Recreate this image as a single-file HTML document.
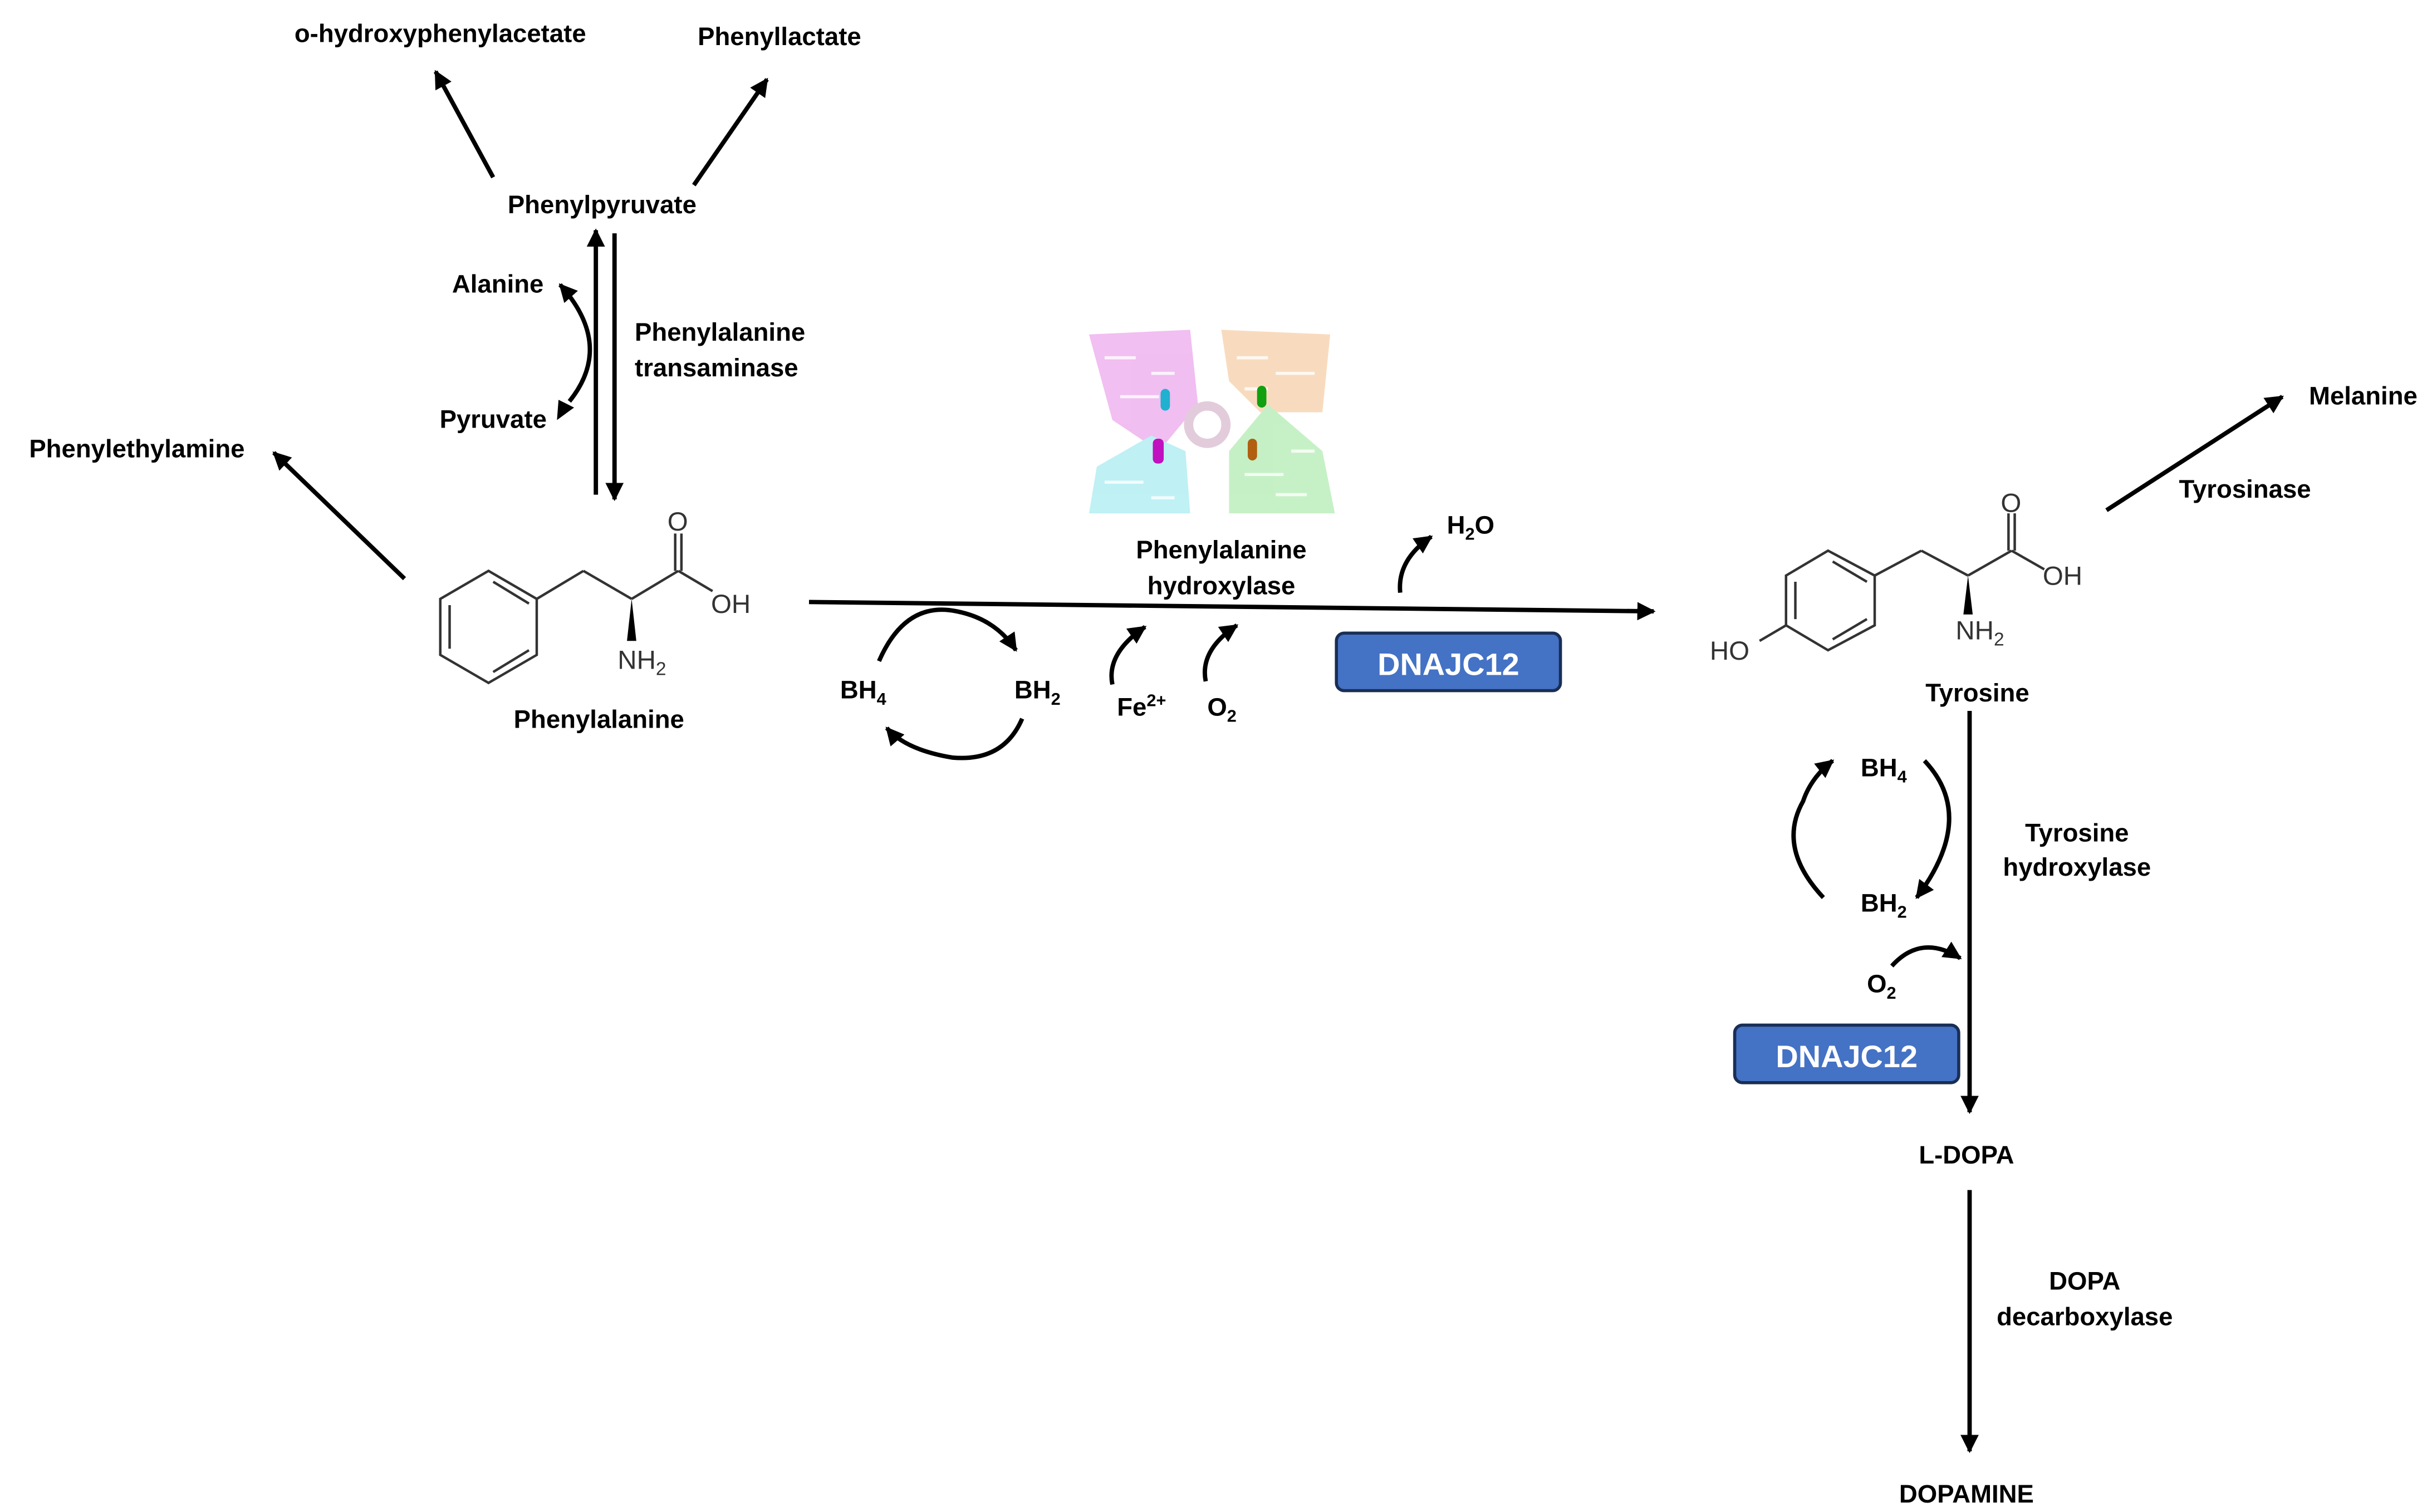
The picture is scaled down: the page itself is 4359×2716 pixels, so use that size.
<!DOCTYPE html>
<html><head><meta charset="utf-8"><style>
html,body{margin:0;padding:0;background:#fff;}
svg{display:block;}
text{font-family:"Liberation Sans",sans-serif;font-weight:bold;font-size:16.3px;fill:#000;}
.c{text-anchor:middle;}
.chem{font-weight:normal;font-size:17px;fill:#333;}
</style></head><body>
<svg width="4359" height="2716" viewBox="0 0 1560 972" xmlns="http://www.w3.org/2000/svg">
<defs>
<marker id="a" viewBox="0 0 10 10" refX="9" refY="5" markerWidth="4.2" markerHeight="4.2" orient="auto" markerUnits="strokeWidth">
<path d="M0,0 L10,5 L0,10 Z" fill="#000"/></marker>
</defs>
<g stroke="#000" stroke-width="2.8" fill="none" marker-end="url(#a)">
<line x1="317" y1="114" x2="280" y2="46"/>
<line x1="446" y1="119" x2="493" y2="51"/>
<line x1="383" y1="318" x2="383" y2="148"/>
<line x1="395" y1="150" x2="395" y2="321"/>
<line x1="260" y1="372" x2="176" y2="291"/>
<line x1="520" y1="387" x2="1063" y2="393"/>
<line x1="1354" y1="328" x2="1467" y2="255"/>
<line x1="1266" y1="457" x2="1266" y2="715"/>
<line x1="1266" y1="765" x2="1266" y2="933"/>
<path d="M366,258 Q395,222 360,183"/>
<path d="M565,425 Q582,386 615,393 Q640,398 653,418"/>
<path d="M657,462 Q645,490 612,487 Q582,482 570,468"/>
<path d="M715,440 Q711,420 736,403"/>
<path d="M775,438 Q771,418 795,402"/>
<path d="M900,381 Q898,360 920,345"/>
<path d="M1172,577 Q1142,545 1159,515 Q1164,500 1178,489"/>
<path d="M1237,489 Q1271,525 1232,577"/>
<path d="M1216,621 Q1235,600 1260,616"/>
</g>
<path d="M358,270 L359,257 L369,262 Z" fill="#000"/>

<!-- Phenylalanine structure -->
<g stroke="#333" stroke-width="1.6" fill="none">
<polygon points="314,367 345,385 345,421 314,439 283,421 283,385"/>
<line x1="289" y1="389" x2="289" y2="417"/>
<line x1="317" y1="374" x2="340" y2="388"/>
<line x1="317" y1="432" x2="340" y2="418"/>
<line x1="345" y1="385" x2="375" y2="367"/>
<line x1="375" y1="367" x2="406" y2="385"/>
<line x1="406" y1="385" x2="436" y2="367"/>
<line x1="436" y1="367" x2="458" y2="380"/>
<line x1="434" y1="367" x2="434" y2="343"/>
<line x1="438" y1="367" x2="438" y2="343"/>
</g>
<polygon points="406,385 403,412 409,412" fill="#000"/>
<text class="chem" x="429" y="341">O</text>
<text class="chem" x="457" y="394">OH</text>
<text class="chem" x="397" y="430">NH<tspan font-size="12" dy="4">2</tspan></text>

<!-- Tyrosine structure -->
<g stroke="#333" stroke-width="1.6" fill="none">
<polygon points="1175,354 1205,370 1205,402 1175,418 1148,402 1148,370"/>
<line x1="1154" y1="374" x2="1154" y2="398"/>
<line x1="1178" y1="361" x2="1200" y2="374"/>
<line x1="1178" y1="411" x2="1200" y2="398"/>
<line x1="1148" y1="402" x2="1131" y2="412"/>
<line x1="1205" y1="370" x2="1235" y2="354"/>
<line x1="1235" y1="354" x2="1265" y2="370"/>
<line x1="1265" y1="370" x2="1293" y2="354"/>
<line x1="1293" y1="354" x2="1314" y2="366"/>
<line x1="1291" y1="354" x2="1291" y2="330"/>
<line x1="1295" y1="354" x2="1295" y2="330"/>
</g>
<polygon points="1265,370 1262,395 1268,395" fill="#000"/>
<text class="chem" x="1286" y="329">O</text>
<text class="chem" x="1313" y="376">OH</text>
<text class="chem" x="1099" y="424">HO</text>
<text class="chem" x="1257" y="411">NH<tspan font-size="12" dy="4">2</tspan></text>

<!-- protein -->
<g opacity="0.45">
<path d="M700,215 L765,212 L770,260 L745,290 L715,270 Z" fill="#e070e0"/>
<path d="M785,212 L855,215 L850,265 L810,265 L790,245 Z" fill="#f0b070"/>
<path d="M700,330 L765,330 L762,290 L740,280 L705,300 Z" fill="#70e0e8"/>
<path d="M790,330 L858,330 L850,290 L815,260 L790,290 Z" fill="#80e080"/>
<circle cx="776" cy="273" r="12" fill="none" stroke="#c090b0" stroke-width="6"/>
</g>
<g fill="none" stroke="#fff" stroke-width="2" opacity="0.8">
<path d="M710,230 h20 M740,240 h15 M720,255 h25 M795,230 h20 M820,240 h25 M800,250 h15 M710,310 h25 M740,320 h15 M800,305 h25 M820,318 h20 M830,290 h15"/>
</g>
<rect x="746" y="250" width="6" height="14" rx="3" fill="#20b0d0"/>
<rect x="808" y="248" width="6" height="14" rx="3" fill="#10a010"/>
<rect x="741" y="282" width="7" height="16" rx="3" fill="#c010c0"/>
<rect x="802" y="282" width="6" height="14" rx="3" fill="#b06010"/>

<!-- DNAJC12 boxes -->
<rect x="859" y="407" width="144" height="37" rx="5" fill="#4472C4" stroke="#1a2e55" stroke-width="2"/>
<text class="c" x="931" y="434" style="fill:#fff;font-size:20px">DNAJC12</text>
<rect x="1115" y="659" width="144" height="37" rx="5" fill="#4472C4" stroke="#1a2e55" stroke-width="2"/>
<text class="c" x="1187" y="686" style="fill:#fff;font-size:20px">DNAJC12</text>

<!-- labels -->
<text class="c" x="283" y="27">o-hydroxyphenylacetate</text>
<text class="c" x="501" y="29">Phenyllactate</text>
<text class="c" x="387" y="137">Phenylpyruvate</text>
<text class="c" x="320" y="188">Alanine</text>
<text class="c" x="317" y="275">Pyruvate</text>
<text x="408" y="219">Phenylalanine</text>
<text x="408" y="242">transaminase</text>
<text class="c" x="88" y="294">Phenylethylamine</text>
<text class="c" x="385" y="468">Phenylalanine</text>
<text class="c" x="785" y="359">Phenylalanine</text>
<text class="c" x="785" y="382">hydroxylase</text>
<text x="540" y="449">BH<tspan font-size="11" dy="4">4</tspan></text>
<text x="652" y="449">BH<tspan font-size="11" dy="4">2</tspan></text>
<text x="718" y="460">Fe<tspan font-size="11" dy="-6">2+</tspan></text>
<text x="776" y="460">O<tspan font-size="11" dy="4">2</tspan></text>
<text x="930" y="343">H<tspan font-size="11" dy="4">2</tspan><tspan dy="-4">O</tspan></text>
<text class="c" x="1519" y="260">Melanine</text>
<text class="c" x="1443" y="320">Tyrosinase</text>
<text class="c" x="1271" y="451">Tyrosine</text>
<text class="c" x="1335" y="541">Tyrosine</text>
<text class="c" x="1335" y="563">hydroxylase</text>
<text x="1196" y="499">BH<tspan font-size="11" dy="4">4</tspan></text>
<text x="1196" y="586">BH<tspan font-size="11" dy="4">2</tspan></text>
<text x="1200" y="638">O<tspan font-size="11" dy="4">2</tspan></text>
<text class="c" x="1264" y="748">L-DOPA</text>
<text class="c" x="1340" y="829">DOPA</text>
<text class="c" x="1340" y="852">decarboxylase</text>
<text class="c" x="1264" y="966">DOPAMINE</text>
</svg>
</body></html>
